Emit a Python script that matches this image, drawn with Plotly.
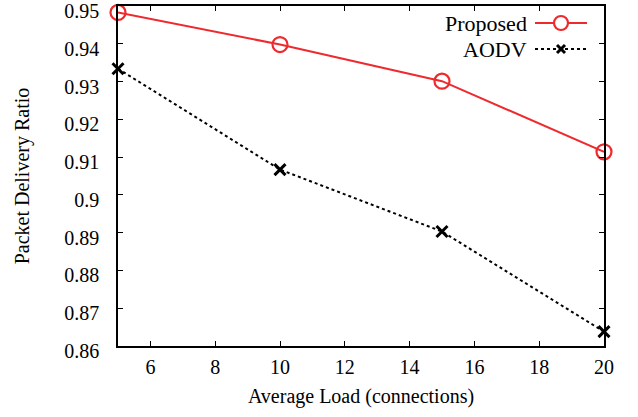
import plotly.graph_objects as go

loads = [5, 10, 15, 20]
proposed = [0.9483, 0.9398, 0.9301, 0.9114]
aodv = [0.9334, 0.9067, 0.8903, 0.8638]
y_ticks = [0.86, 0.87, 0.88, 0.89, 0.90, 0.91, 0.92, 0.93, 0.94, 0.95]
y_tick_labels = ["0.86", "0.87", "0.88", "0.89", "0.9", "0.91", "0.92", "0.93", "0.94", "0.95"]
x_ticks = [6, 8, 10, 12, 14, 16, 18, 20]

RED = "#ee2a2e"
FONT = "Liberation Serif"

L, R, T, B = 118, 604, 6, 346

fig = go.Figure()
fig.add_trace(go.Scatter(x=loads, y=proposed, mode="lines+markers", name="Proposed",
                         line=dict(color=RED, width=2),
                         marker=dict(symbol="circle-open", size=15, color=RED, line=dict(width=2.2)),
                         cliponaxis=False))
fig.add_trace(go.Scatter(x=loads, y=aodv, mode="lines+markers", name="AODV",
                         line=dict(color="black", width=2, dash="dot"),
                         marker=dict(symbol="x-thin", size=11, color="black", line=dict(width=3, color="black")),
                         cliponaxis=False))

# Legend (gnuplot style: label left of sample)
def px_x(p):
    return (p - L) / (R - L)
def px_y(p):
    return 1 - (p - T) / (B - T)

entries = [("Proposed", 23), ("AODV", 49)]
for label, yy in entries:
    fig.add_annotation(x=px_x(529), y=px_y(yy), xref="paper", yref="paper", text=label,
                       showarrow=False, xanchor="right", yanchor="middle",
                       font=dict(family=FONT, size=22, color="black"))
fig.add_shape(type="line", xref="paper", yref="paper", x0=px_x(535), x1=px_x(587),
              y0=px_y(23), y1=px_y(23), line=dict(color=RED, width=2))
fig.add_shape(type="circle", xref="paper", yref="paper", x0=px_x(554), x1=px_x(568),
              y0=px_y(30), y1=px_y(16), line=dict(color=RED, width=2.2), fillcolor="white")
fig.add_shape(type="line", xref="paper", yref="paper", x0=px_x(535), x1=px_x(587),
              y0=px_y(49), y1=px_y(49), line=dict(color="black", width=2, dash="dot"))
fig.add_shape(type="line", xref="paper", yref="paper", x0=px_x(557), x1=px_x(565),
              y0=px_y(45), y1=px_y(53), line=dict(color="black", width=3))
fig.add_shape(type="line", xref="paper", yref="paper", x0=px_x(557), x1=px_x(565),
              y0=px_y(53), y1=px_y(45), line=dict(color="black", width=3))

fig.update_layout(
    width=638, height=417,
    margin=dict(l=L, r=638 - R, t=T, b=417 - B, autoexpand=False),
    plot_bgcolor="white", paper_bgcolor="white",
    showlegend=False,
    font=dict(family=FONT, size=17, color="black"),
)
fig.update_xaxes(range=[5, 20], tickvals=x_ticks, ticks="inside", ticklen=5, tickcolor="black",
                 showline=True, linecolor="black", linewidth=1.5, mirror="ticks", showgrid=False,
                 zeroline=False, automargin=False, ticklabelstandoff=2,
                 ticklabeloverflow="allow",
                 title=dict(text="Average Load (connections)", standoff=12),
                 tickfont=dict(size=20))
fig.update_yaxes(range=[0.86, 0.95], tickvals=y_ticks, ticktext=y_tick_labels, ticks="inside",
                 ticklen=5, tickcolor="black", showline=True, linecolor="black", linewidth=1.5,
                 mirror="ticks", showgrid=False, zeroline=False, automargin=False,
                 ticklabelstandoff=13, ticklabelshift=5, ticklabeloverflow="allow",
                 title=dict(text="Packet Delivery Ratio", standoff=29), tickfont=dict(size=20))

fig.write_html("out.html", config={"displayModeBar": False},
               post_script="document.body.style.margin='0';")
